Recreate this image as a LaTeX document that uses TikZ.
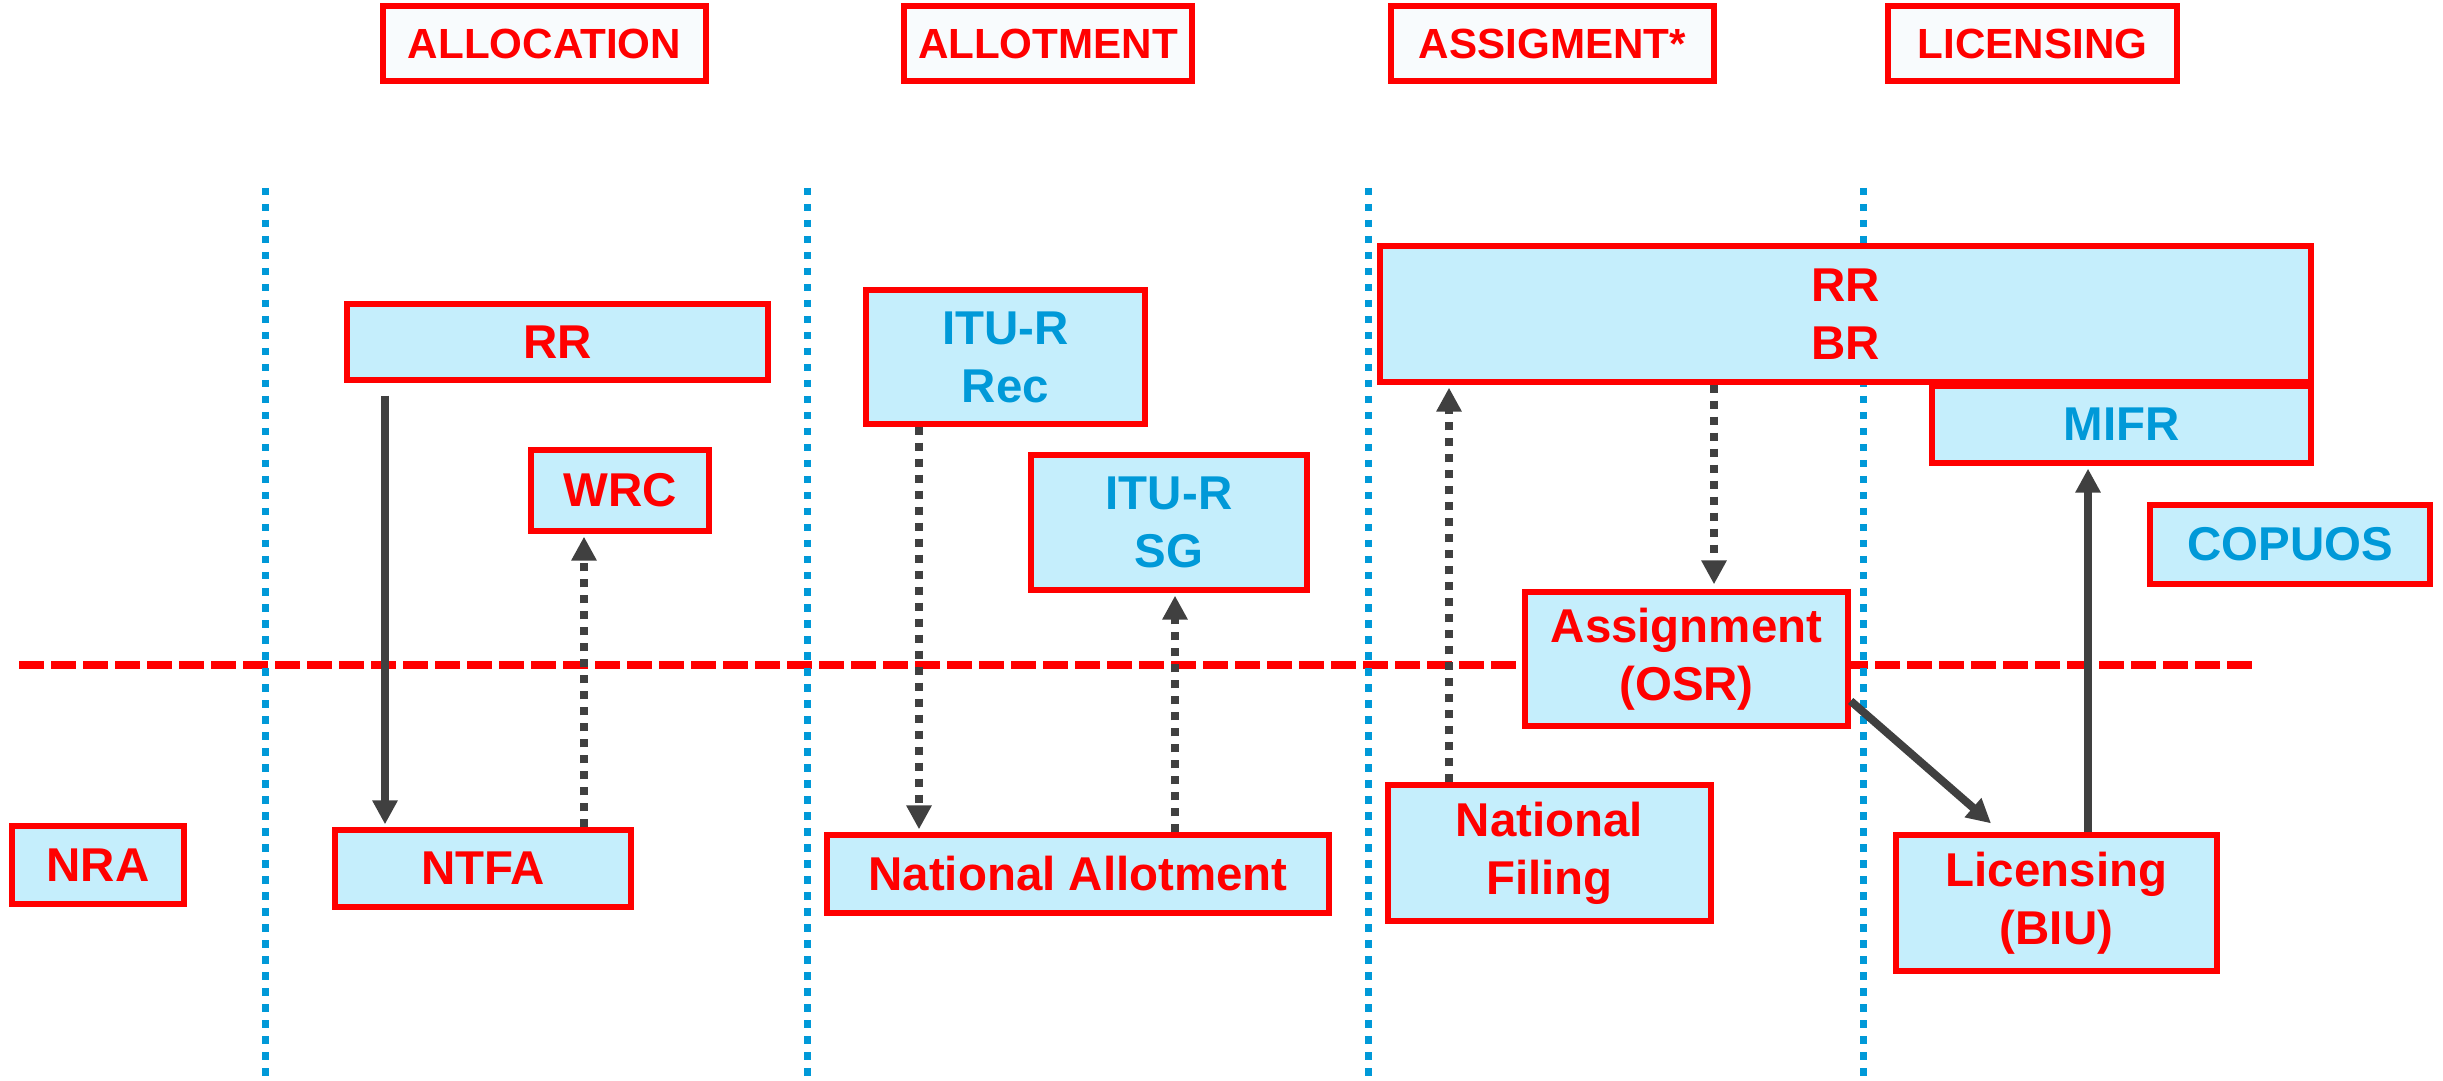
\documentclass[tikz,border=0pt]{standalone}
\usepackage{fontspec}
\setmainfont{Liberation Sans}
\usetikzlibrary{arrows.meta}
\definecolor{boxred}{HTML}{FF0000}
\definecolor{boxfill}{HTML}{C5EEFC}
\definecolor{headfill}{HTML}{F8FBFD}
\definecolor{itublue}{HTML}{0099D8}
\definecolor{arrowgray}{HTML}{404040}
\begin{document}
\begin{tikzpicture}[
  head/.style={draw=boxred, fill=headfill, line width=1.5pt, text=boxred,
    font=\fontsize{12}{14}\selectfont\bfseries, minimum height=0.75cm, inner sep=0pt},
  blk/.style={draw=boxred, fill=boxfill, line width=1.5pt, text=boxred, align=center,
    font=\fontsize{13.5}{16.5}\selectfont\bfseries, inner sep=0pt},
  blue/.style={text=itublue},
  sep/.style={draw=itublue, line width=0.7mm, dash pattern=on 0.075cm off 0.085cm},
  flow/.style={draw=arrowgray, line width=0.8mm, -{Triangle[width=2.4mm,length=2.4mm]}},
  dflow/.style={flow, dash pattern=on 0.08cm off 0.08cm}
]
\useasboundingbox (0,0) rectangle (24.43,-10.81);

% national / international border
\draw[boxred, line width=0.8mm, dash pattern=on 0.25cm off 0.07cm] (0.19,-6.65) -- (22.54,-6.65);

% column separators
\foreach \x in {2.65, 8.07, 13.68, 18.63}
  \draw[sep] (\x,-1.88) -- (\x,-10.81);

% column headings
\node[head, minimum width=3.23cm] (hAlloc) at (5.445,-0.435) {ALLOCATION};
\node[head, minimum width=2.88cm] (hAllot) at (10.48,-0.435) {ALLOTMENT};
\node[head, minimum width=3.23cm] (hAssig) at (15.525,-0.435) {ASSIGMENT*};
\node[head, minimum width=2.89cm] (hLic)   at (20.325,-0.435) {LICENSING};

% boxes
\node[blk, minimum width=1.72cm, minimum height=0.78cm] (nra)  at (0.98,-8.65) {NRA};
\node[blk, minimum width=4.21cm, minimum height=0.76cm] (rrA)  at (5.575,-3.42) {RR};
\node[blk, minimum width=1.78cm, minimum height=0.81cm] (wrc)  at (6.20,-4.905) {WRC};
\node[blk, minimum width=2.96cm, minimum height=0.77cm] (ntfa) at (4.83,-8.685) {NTFA};
\node[blk, blue, minimum width=2.79cm, minimum height=1.34cm] (itur)  at (10.055,-3.57) {ITU-R\\Rec};
\node[blk, blue, minimum width=2.76cm, minimum height=1.35cm] (itusg) at (11.69,-5.225) {ITU-R\\SG};
\node[blk, minimum width=5.02cm, minimum height=0.78cm] (natAllot) at (10.78,-8.74) {National Allotment};
\node[blk, minimum width=9.31cm, minimum height=1.36cm] (rrbr) at (18.455,-3.14) {RR\\BR};
\node[blk, blue, minimum width=3.79cm, minimum height=0.77cm] (mifr)   at (21.215,-4.245) {MIFR};
\node[blk, blue, minimum width=2.80cm, minimum height=0.79cm] (copuos) at (22.90,-5.445) {COPUOS};
\node[blk, minimum width=3.23cm, minimum height=1.34cm] (assign) at (16.865,-6.59) {Assignment\\(OSR)};
\node[blk, minimum width=3.23cm, minimum height=1.36cm] (natFil) at (15.495,-8.53) {National\\Filing};
\node[blk, minimum width=3.21cm, minimum height=1.36cm] (licens) at (20.565,-9.03) {Licensing\\(BIU)};

% flows
\draw[flow]  ([yshift=-0.13cm]rrA.south -| 3.85,0) -- ([yshift=0.03cm]ntfa.north -| 3.85,0);
\draw[dflow] (ntfa.north -| 5.84,0) -- ([yshift=-0.03cm]wrc.south -| 5.84,0);
\draw[dflow] (itur.south -| 9.19,0) -- ([yshift=0.03cm]natAllot.north -| 9.19,0);
\draw[dflow] (natAllot.north -| 11.75,0) -- ([yshift=-0.03cm]itusg.south -| 11.75,0);
\draw[dflow] (natFil.north -| 14.49,0) -- ([yshift=-0.03cm]rrbr.south -| 14.49,0);
\draw[dflow] (rrbr.south -| 17.14,0) -- ([yshift=0.05cm]assign.north -| 17.14,0);
\draw[flow]  (assign.east |- 0,-7.01) -- ([xshift=-0.655cm,yshift=0.09cm]licens.north);
\draw[flow]  (licens.north -| 20.88,0) -- ([yshift=-0.03cm]mifr.south -| 20.88,0);
\end{tikzpicture}
\end{document}
